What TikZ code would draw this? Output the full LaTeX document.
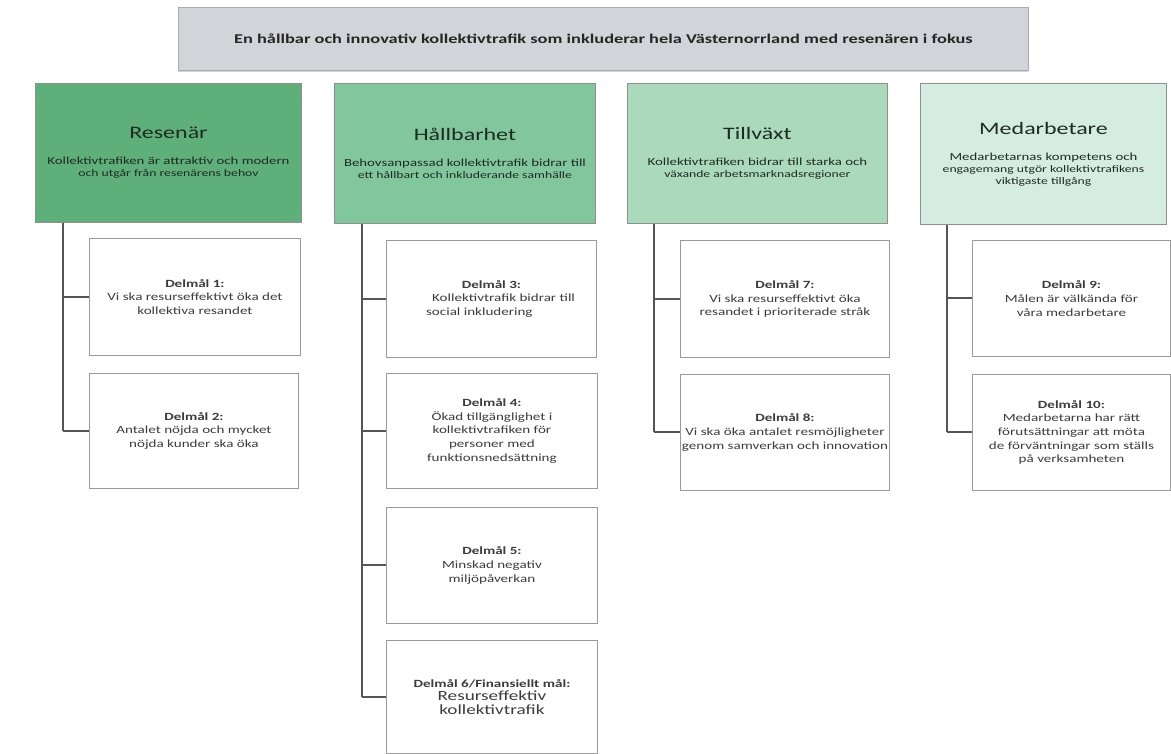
\documentclass[tikz,border=0pt]{standalone}
\usepackage{fontspec}
\setmainfont[FakeStretch=1.37]{Carlito}
\usetikzlibrary{shadows}
\definecolor{topfill}{HTML}{D1D4D8}
\definecolor{topline}{HTML}{A9ACB0}
\definecolor{cA}{HTML}{5FAF7A}
\definecolor{cB}{HTML}{82C69D}
\definecolor{cC}{HTML}{AADABB}
\definecolor{cD}{HTML}{D5EDE0}
\definecolor{catline}{HTML}{8C918E}
\definecolor{cattext}{HTML}{1E2B22}
\definecolor{goalline}{HTML}{9A9A9A}
\definecolor{goaltext}{HTML}{3C3C3C}
\definecolor{conn}{HTML}{555555}
\tikzset{
  topbox/.style={draw=topline, fill=topfill, line width=0.8pt, anchor=north west, inner sep=0pt,
    font=\bfseries\fontsize{13.4}{15}\selectfont, text=black!85,
    drop shadow={shadow xshift=0pt, shadow yshift=-1.5pt, opacity=0.35}},
  cat/.style={draw=catline, line width=0.9pt, anchor=north west, inner sep=0pt, align=center, text=cattext,
    drop shadow={shadow xshift=1pt, shadow yshift=-1pt, opacity=0.25}},
  goal/.style={draw=goalline, fill=white, line width=0.9pt, anchor=north west, inner sep=0pt, align=center,
    text=goaltext, font=\fontsize{11}{13.6}\selectfont,
    drop shadow={shadow xshift=1pt, shadow yshift=-1pt, opacity=0.2}},
  trunk/.style={draw=conn, line width=2.6pt},
  branch/.style={draw=conn, line width=2pt},
}
\newcommand{\cattitle}[1]{{\fontsize{17.5}{21}\selectfont #1}\\[14pt]}
\newcommand{\catsub}{\fontsize{10.8}{13.4}\selectfont}
\begin{document}
\begin{tikzpicture}[x=1pt,y=-1pt]
\useasboundingbox (0,0) rectangle (1171,753);
\fill[white] (0,0) rectangle (1171,753);

\node[topbox, minimum width=850pt, minimum height=63pt] (top) at (178,7)
  {En hållbar och innovativ kollektivtrafik som inkluderar hela Västernorrland med resenären i fokus};

\node[cat, fill=cA, minimum width=266pt, minimum height=139pt] (res) at (35,83)
  {\cattitle{Resenär}\catsub Kollektivtrafiken är attraktiv och modern\\ och utgår från resenärens behov};
\node[cat, fill=cB, minimum width=261pt, minimum height=140pt] (hall) at (334,83)
  {\cattitle{Hållbarhet}\catsub Behovsanpassad kollektivtrafik bidrar till\\ ett hållbart och inkluderande samhälle};
\node[cat, fill=cC, minimum width=260pt, minimum height=140pt] (till) at (627,83)
  {\cattitle{Tillväxt}\catsub Kollektivtrafiken bidrar till starka och\\ växande arbetsmarknadsregioner};
\node[cat, fill=cD, minimum width=246pt, minimum height=141pt] (med) at (920,83)
  {\cattitle{Medarbetare}\catsub Medarbetarnas kompetens och\\ engagemang utgör kollektivtrafikens\\ viktigaste tillgång};

\node[goal, minimum width=211pt, minimum height=117pt] (d1) at (89,238)
  {\textbf{Delmål 1:}\\ Vi ska resurseffektivt öka det\\ kollektiva resandet};
\node[goal, minimum width=209pt, minimum height=115pt] (d2) at (89,373)
  {\textbf{Delmål 2:}\\ Antalet nöjda och mycket\\ nöjda kunder ska öka};

\node[goal, minimum width=210pt, minimum height=117pt] (d3) at (386,240)
  {\textbf{Delmål 3:}\\ \hspace*{2.2em}Kollektivtrafik bidrar till\\ social inkludering\hspace*{2.2em}};
\node[goal, minimum width=211pt, minimum height=115pt] (d4) at (386,373)
  {\textbf{Delmål 4:}\\ Ökad tillgänglighet i\\ kollektivtrafiken för\\ personer med\\ funktionsnedsättning};
\node[goal, minimum width=211pt, minimum height=116pt] (d5) at (386,507)
  {\textbf{Delmål 5:}\\ Minskad negativ\\ miljöpåverkan};
\node[goal, minimum width=211pt, minimum height=113pt] (d6) at (386,640)
  {\textbf{Delmål 6/Finansiellt mål:}\\ {\fontsize{14}{17}\selectfont Resurseffektiv}\\ {\fontsize{14}{17}\selectfont kollektivtrafik}};

\node[goal, minimum width=209pt, minimum height=117pt] (d7) at (680,240)
  {\textbf{Delmål 7:}\\ Vi ska resurseffektivt öka\\ resandet i prioriterade stråk};
\node[goal, minimum width=209pt, minimum height=116pt] (d8) at (680,374)
  {\textbf{Delmål 8:}\\ Vi ska öka antalet resmöjligheter\\ genom samverkan och innovation};

\node[goal, minimum width=198pt, minimum height=116pt] (d9) at (972,240)
  {\textbf{Delmål 9:}\\ Målen är välkända för\\ våra medarbetare};
\node[goal, minimum width=198pt, minimum height=116pt] (d10) at (972,374)
  {\textbf{Delmål 10:}\\ Medarbetarna har rätt\\ förutsättningar att möta\\ de förväntningar som ställs\\ på verksamheten};

\coordinate (t1) at ([xshift=28pt]res.south west);
\coordinate (t2) at ([xshift=28pt]hall.south west);
\coordinate (t3) at ([xshift=27pt]till.south west);
\coordinate (t4) at ([xshift=27pt]med.south west);

\draw[trunk] (t1) -- (t1 |- d2.west);
\draw[branch] (d1.west) -- (d1.west -| t1);
\draw[branch] (d2.west) -- (d2.west -| t1);

\draw[trunk] (t2) -- (t2 |- d6.west);
\draw[branch] (d3.west) -- (d3.west -| t2);
\draw[branch] (d4.west) -- (d4.west -| t2);
\draw[branch] (d5.west) -- (d5.west -| t2);
\draw[branch] (d6.west) -- (d6.west -| t2);

\draw[trunk] (t3) -- (t3 |- d8.west);
\draw[branch] (d7.west) -- (d7.west -| t3);
\draw[branch] (d8.west) -- (d8.west -| t3);

\draw[trunk] (t4) -- (t4 |- d10.west);
\draw[branch] (d9.west) -- (d9.west -| t4);
\draw[branch] (d10.west) -- (d10.west -| t4);
\end{tikzpicture}
\end{document}
